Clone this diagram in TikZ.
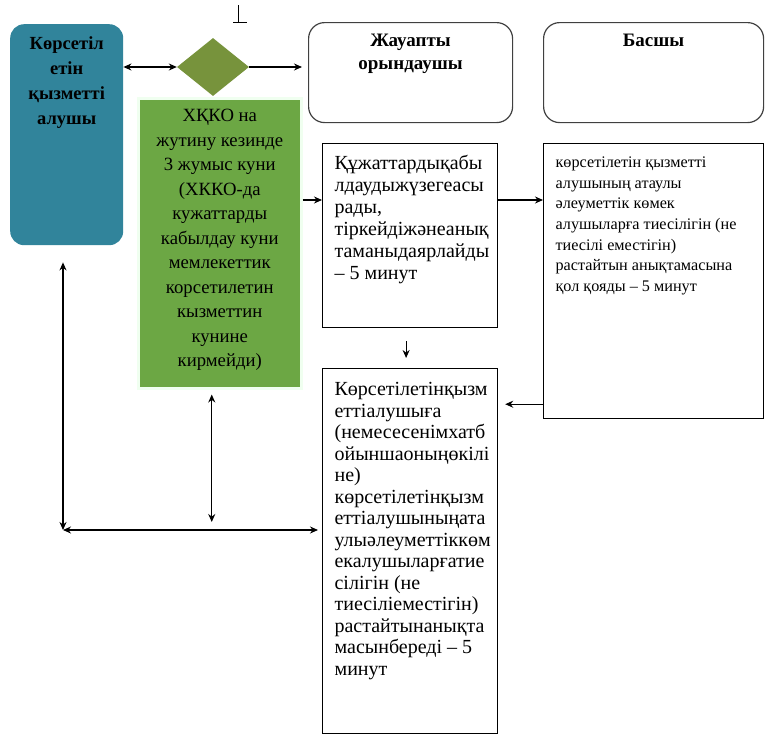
\documentclass[tikz,border=0pt]{standalone}
\usepackage{fontspec}
\setmainfont{Liberation Serif}
\usetikzlibrary{arrows.meta,shapes.geometric,shadows}
\definecolor{clientblue}{HTML}{31849B}
\definecolor{cfcgreen}{HTML}{6CA744}
\definecolor{olive}{HTML}{77933C}
% text block of fixed size, set from the top
\newcommand{\boxtxt}[3]{\parbox[t][#2pt][t]{#1pt}{#3}}
\begin{document}
\begin{tikzpicture}[x=1pt,y=-1pt,
    every node/.style={font=\fontsize{20}{22}\selectfont},
    lane/.style={draw=black!75, line width=1.2pt, rounded corners=16pt,
      anchor=north west, inner sep=6pt},
    stepbox/.style={draw, line width=1.2pt, anchor=north west,
      inner xsep=12pt, inner ysep=8pt},
    arr/.style={line width=1.2pt, -{Stealth[length=8pt,width=7pt]}},
    dbl/.style={line width=1.2pt,
      {Stealth[length=8pt,width=7pt]}-{Stealth[length=8pt,width=7pt]}}]
  \useasboundingbox (0,0) rectangle (765,736);

  % lanes
  \node[anchor=north west, fill=clientblue, rounded corners=14pt, inner sep=6pt,
    font=\fontsize{18.5}{25}\selectfont\bfseries] (client) at (10,24)
    {\boxtxt{101}{209}{\centering\vspace*{6pt}Көрсетіл\\етін\\қызметті\\алушы}};
  \node[lane, font=\fontsize{19}{23}\selectfont\bfseries] (exec) at (308,22)
    {\boxtxt{192}{88}{\centering\vspace*{5pt}Жауапты\\орындаушы}};
  \node[lane, font=\fontsize{19}{23}\selectfont\bfseries] (head) at (543,22)
    {\boxtxt{208}{88}{\centering\vspace*{5pt}Басшы}};

  % client side
  \node[diamond, fill=olive, minimum width=72pt, minimum height=58pt,
    inner sep=0pt] (dec) at (213,67) {};
  \node[anchor=north west, fill=cfcgreen, draw=green!6!white, line width=2.5pt,
    inner sep=6pt, font=\fontsize{18.7}{24.5}\selectfont,
    drop shadow={opacity=0.25, shadow xshift=2pt, shadow yshift=-2pt}]
    (cfc) at (137,97)
    {\boxtxt{151}{278}{\centering\vspace*{5pt}ХҚКО на\\жутину кезинде\\3 жумыс куни\\(ХККО-да\\кужаттарды\\кабылдау куни\\мемлекеттик\\корсетилетин\\кызметтин\\кунине\\кирмейди)}};

  % steps
  \node[stepbox] (doc) at (322,143)
    {\boxtxt{151}{168}{\raggedright\vspace*{4pt}Құжаттардықабы\\лдаудыжүзегеасы\\рады,\\тіркейдіжәнеанық\\таманыдаярлайды\\– 5 минут}};
  \node[stepbox, font=\fontsize{16.2}{20.7}\selectfont] (headtxt) at (543,143)
    {\boxtxt{196}{259}{\raggedright\vspace*{5pt}көрсетілетін қызметті\\алушының атаулы\\әлеуметтік көмек\\алушыларға тиесілігін (не\\тиесілі еместігін)\\растайтын анықтамасына\\қол қояды – 5 минут}};
  \node[stepbox, font=\fontsize{20}{21.5}\selectfont] (result) at (322,368)
    {\boxtxt{151}{349}{\raggedright\vspace*{6pt}Көрсетілетінқызм\\еттіалушыға\\(немесесенімхатб\\ойыншаоныңөкілі\\не)\\көрсетілетінқызм\\еттіалушыныңата\\улыәлеуметтіккөм\\екалушыларғатие\\сілігін (не\\тиесіліеместігін)\\растайтынанықта\\масынбереді – 5\\минут}};

  \draw[line width=0.8pt] (238,5) -- (238,22) (233,22) -- (247,22);

  % connectors
  \coordinate (docin) at ([yshift=-57pt]doc.north west);
  \coordinate (docout) at ([yshift=-57pt]doc.north east);
  \coordinate (down) at ([xshift=-4pt]doc.south);
  \coordinate (back) at ([yshift=15pt]headtxt.south west);
  \coordinate (corner) at (63,530);
  \coordinate (cfcdown) at ([xshift=-8pt]cfc.south);
  \draw[dbl] (dec.west -| client.east) -- (dec.west);
  \draw[arr, shorten >=6pt] (dec.east) -- (dec.east -| exec.west);
  \draw[arr] (docin -| cfc.east) -- (docin);
  \draw[arr] (docout) -- (docout -| headtxt.west);
  \draw[arr, shorten <=13pt, shorten >=10pt] (down) -- (down |- result.north);
  \draw[arr, shorten >=7pt] (back) -- (back -| result.east);
  \draw[dbl, shorten <=17pt] (corner |- client.south) -- (corner);
  \draw[dbl, shorten >=4pt] (corner) -- (corner -| result.west);
  \draw[dbl, shorten <=5pt, shorten >=8pt] (cfcdown) -- (cfcdown |- corner);
\end{tikzpicture}
\end{document}
